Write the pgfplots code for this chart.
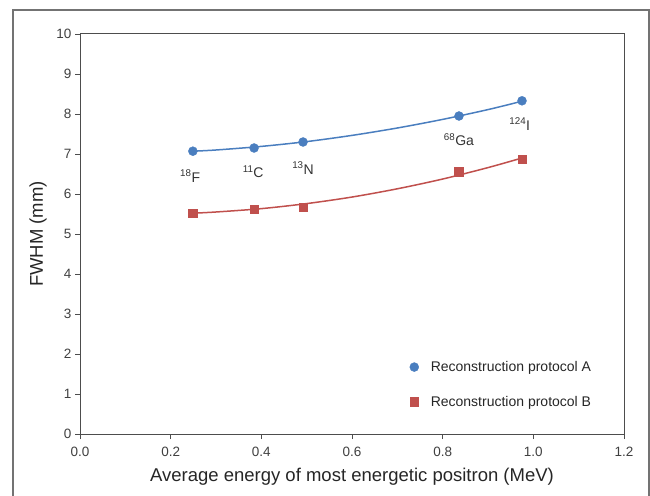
\documentclass[border=0pt]{standalone}
\usepackage{pgfplots}
\pgfplotsset{compat=1.18}
\usepackage{fontspec}
\setmainfont{Liberation Sans}
\definecolor{serA}{HTML}{4A7EBF}
\definecolor{serB}{HTML}{C0504D}
\definecolor{axgray}{HTML}{4D4D4D}
\begin{document}
\begin{tikzpicture}
\begin{axis}[
    name=ax,
    scale only axis, width=544pt, height=400pt,
    xmin=0, xmax=1.2, ymin=0, ymax=10,
    xtick={0,0.2,...,1.2}, ytick={0,1,...,10},
    xticklabel style={yshift=-5pt, /pgf/number format/.cd, fixed, fixed zerofill, precision=1},
    /pgf/number format/assume math mode=true,
    tick label style={font=\fontsize{13.5}{15}\selectfont, text=black!75},
    tick align=outside, major tick length=5pt,
    xtick pos=left, ytick pos=left,
    axis line style={axgray, line width=1pt},
    every tick/.style={axgray, line width=0.8pt},
    xlabel={Average energy of most energetic positron (MeV)},
    ylabel={FWHM (mm)},
    label style={font=\fontsize{18.5}{20}\selectfont, text=black!85},
    xlabel style={yshift=-4pt},
    ylabel style={yshift=3pt},
    legend image code/.code={
        \path[draw=none,fill=none] (0pt,0pt) -- (19pt,0pt);
        \draw[#1] plot coordinates {(4.5pt,0pt)};},
    legend style={draw=none, fill=none, font=\fontsize{14}{16}\selectfont,
        at={(axis cs:0.727,1.24)}, anchor=west, row sep=19pt,
        inner sep=0pt, text=black!85},
    legend cell align=left,
]
% measured points
\addplot[only marks, mark=*, mark size=4.5pt, color=serA] coordinates {
    (0.249,7.07) (0.384,7.15) (0.492,7.30) (0.836,7.95) (0.975,8.33)};
\addlegendentry{Reconstruction protocol A}
\addplot[only marks, mark=square*, mark size=4.3pt, color=serB] coordinates {
    (0.249,5.52) (0.384,5.62) (0.492,5.67) (0.836,6.55) (0.975,6.87)};
\addlegendentry{Reconstruction protocol B}
% polynomial trend lines
\addplot[forget plot, smooth, serA, line width=1.5pt] coordinates {
    (0.249,7.07) (0.3,7.10) (0.4,7.19) (0.5,7.31) (0.6,7.465)
    (0.7,7.65) (0.8,7.865) (0.9,8.11) (0.975,8.32)};
\addplot[forget plot, smooth, serB, line width=1.5pt] coordinates {
    (0.249,5.52) (0.3,5.55) (0.4,5.634) (0.5,5.76) (0.6,5.924)
    (0.7,6.13) (0.8,6.374) (0.9,6.66) (0.975,6.90)};
% isotope labels
\begin{scope}[every node/.style={font=\fontsize{14}{16}\selectfont, text=black!80}]
\node at (axis cs:0.243,6.45) {\textsuperscript{18}F};
\node at (axis cs:0.382,6.55) {\textsuperscript{11}C};
\node at (axis cs:0.492,6.65) {\textsuperscript{13}N};
\node at (axis cs:0.836,7.35) {\textsuperscript{68}Ga};
\node at (axis cs:0.970,7.75) {\textsuperscript{124}I};
\end{scope}
\end{axis}
% page size, then outer frame
\useasboundingbox ([xshift=-80pt,yshift=-61pt]ax.south west)
    rectangle ([xshift=26pt,yshift=34pt]ax.north east);
\draw[black!55, line width=1.2pt] ([xshift=-67pt,yshift=-80pt]ax.south west)
    -- ([xshift=-67pt,yshift=24pt]ax.north west)
    -- ([xshift=25pt,yshift=24pt]ax.north east)
    -- ([xshift=25pt,yshift=-80pt]ax.south east);
\end{tikzpicture}
\end{document}
